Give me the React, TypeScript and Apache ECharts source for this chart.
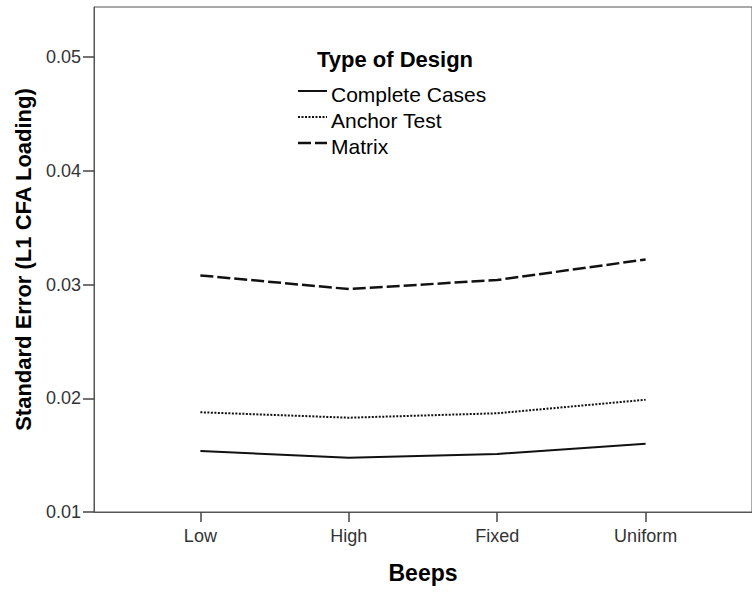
import React, { useEffect, useRef } from "react";
import * as echarts from "echarts";

const categories = ["Low", "High", "Fixed", "Uniform"];
const seriesNames = ["Complete Cases", "Anchor Test", "Matrix"];
const completeCases = [0.01536, 0.01477, 0.0151, 0.016];
const anchorTest = [0.01877, 0.01829, 0.01868, 0.01987];
const matrix = [0.0308, 0.0296, 0.0304, 0.0322];
const yTicks = [0.01, 0.02, 0.03, 0.04, 0.05];
const legendTitle = "Type of Design";

const FONT = '"Liberation Sans", Arial, sans-serif';

export default function App() {
  const ref = useRef<HTMLDivElement>(null);
  useEffect(() => {
    if (!ref.current) return;
    const chart = echarts.init(ref.current, null, { renderer: "svg" });
    const positions = categories.map((_, i) => i + 1);
    const toData = (arr: number[]) => arr.map((v, i) => [positions[i], v]);
    const lineColor = "#111";
    const dashes: (number[] | null)[] = [null, [2, 1.5], [13, 4]];
    const widths = [2, 2, 2.5];
    const legendGraphics: any[] = [
      {
        type: "text",
        x: 317,
        y: 59,
        style: {
          text: legendTitle,
          font: `bold 22px ${FONT}`,
          fill: "#000",
          verticalAlign: "middle",
          align: "left",
        },
      },
    ];
    seriesNames.forEach((name, i) => {
      const cy = 94 + i * 26;
      legendGraphics.push({
        type: "line",
        shape: { x1: 298, y1: cy - 3, x2: 327, y2: cy - 3 },
        style: { stroke: lineColor, lineWidth: widths[i], lineDash: dashes[i] ?? undefined },
      });
      legendGraphics.push({
        type: "text",
        x: 331,
        y: cy,
        style: {
          text: name,
          font: `21px ${FONT}`,
          fill: "#000",
          verticalAlign: "middle",
          align: "left",
        },
      });
    });
    chart.setOption({
      animation: false,
      textStyle: { fontFamily: FONT },
      grid: {
        left: 94,
        right: -10,
        top: 7,
        bottom: 81,
        show: true,
        borderColor: "#555",
        borderWidth: 1,
        backgroundColor: "transparent",
      },
      xAxis: {
        type: "value",
        min: 1 - 108 / 150.67,
        max: 4 + 108 / 150.67,
        name: "Beeps",
        nameLocation: "middle",
        nameGap: 49,
        nameTextStyle: { fontSize: 23, fontWeight: "bold", color: "#000", fontFamily: FONT },
        axisLine: { show: true, lineStyle: { color: "#555", width: 1 } },
        axisTick: {
          show: true,
          inside: false,
          length: 10,
          customValues: positions,
          lineStyle: { color: "#444", width: 1.5 },
        },
        axisLabel: {
          customValues: positions,
          formatter: (v: number) => categories[Math.round(v) - 1] ?? "",
          fontSize: 18,
          color: "#333",
          margin: 15,
          fontFamily: FONT,
        },
        splitLine: { show: false },
      },
      yAxis: {
        type: "value",
        min: yTicks[0],
        max: 0.0544,
        interval: 0.01,
        name: "Standard Error (L1 CFA Loading)",
        nameLocation: "middle",
        nameRotate: 90,
        nameGap: 60,
        nameTextStyle: { fontSize: 22, fontWeight: "bold", color: "#000", fontFamily: FONT },
        axisLine: { show: true, lineStyle: { color: "#555", width: 1 } },
        axisTick: {
          show: true,
          inside: false,
          length: 11,
          customValues: yTicks,
          lineStyle: { color: "#444", width: 1.5 },
        },
        axisLabel: {
          customValues: yTicks,
          formatter: (v: number) => v.toFixed(2),
          fontSize: 18,
          color: "#333",
          margin: 13,
          fontFamily: FONT,
        },
        splitLine: { show: false },
      },
      graphic: legendGraphics,
      series: [
        {
          name: seriesNames[0],
          type: "line",
          symbol: "none",
          data: toData(completeCases),
          lineStyle: { color: lineColor, width: widths[0], type: "solid" },
          itemStyle: { color: lineColor },
        },
        {
          name: seriesNames[1],
          type: "line",
          symbol: "none",
          data: toData(anchorTest),
          lineStyle: { color: lineColor, width: widths[1], type: dashes[1] },
          itemStyle: { color: lineColor },
        },
        {
          name: seriesNames[2],
          type: "line",
          symbol: "none",
          data: toData(matrix),
          lineStyle: { color: lineColor, width: widths[2], type: dashes[2] },
          itemStyle: { color: lineColor },
        },
      ],
    });
    return () => chart.dispose();
  }, []);
  return (
    <div
      ref={ref}
      style={{ position: "absolute", left: 0, top: 0, width: 752, height: 593, background: "#fff" }}
    />
  );
}
